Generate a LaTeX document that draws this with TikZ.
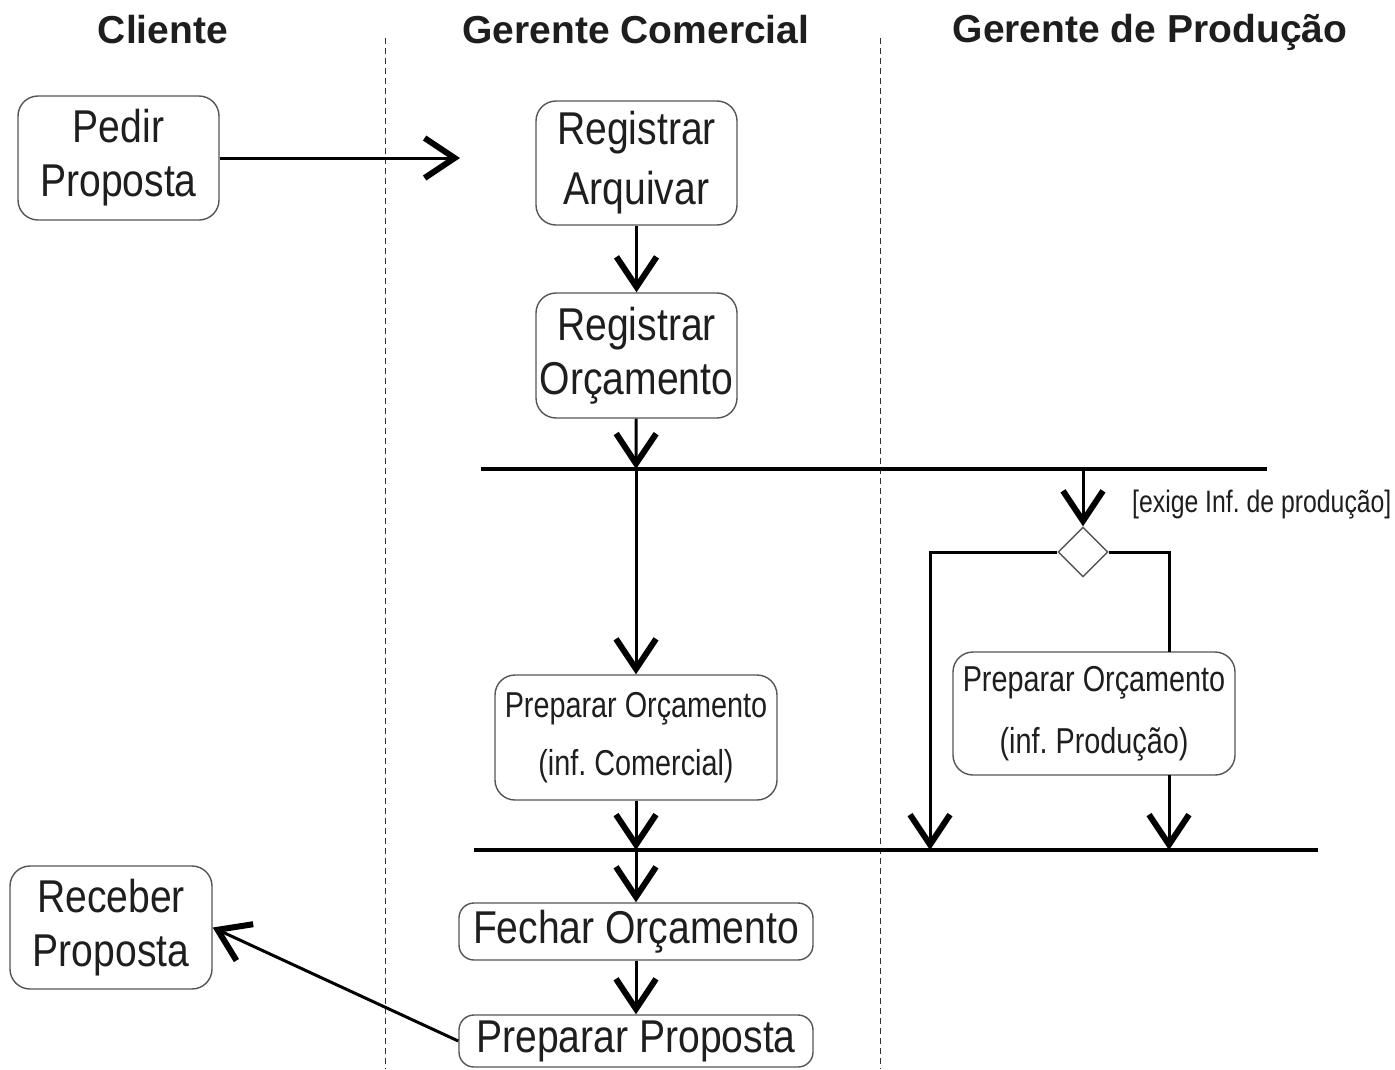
\documentclass[tikz,border=0pt]{standalone}
\usepackage{fontspec}
\setmainfont{Liberation Sans}
\newfontfamily\narrow[FakeStretch=0.85]{Liberation Sans}
\newfontfamily\slimfont[FakeStretch=0.80]{Liberation Sans}
\usetikzlibrary{arrows.meta,shapes.geometric}
\definecolor{boxline}{HTML}{555555}
\definecolor{ink}{HTML}{1E1E1E}
\frenchspacing
\tikzset{
  box/.style={draw=boxline, line width=1.4, rounded corners=20, fill=white, align=center, text=ink, inner sep=0pt,
    font=\narrow\fontsize{46}{54}\selectfont},
  smallbox/.style={box, font=\slimfont\fontsize{36}{58}\selectfont},
  head/.style={font=\bfseries\fontsize{39}{44}\selectfont, text=ink, inner sep=0pt},
  arr/.style={line width=3, -{Straight Barb[length=30,width=40,line width=6]}},
  plain/.style={line width=3},
  bar/.style={line width=4.5},
  lane/.style={line width=0.9, dash pattern=on 6 off 4, draw=black!80},
  guard/.style={font=\slimfont\fontsize{31}{34}\selectfont, text=ink, inner sep=0pt}
}
\begin{document}
\begin{tikzpicture}[x=1pt,y=-1pt]
\frenchspacing
\useasboundingbox[fill=white] (0,0) rectangle (1395,1069);
% swimlane separators
\draw[lane] (385,38) -- (385,1069);
\draw[lane] (880,38) -- (880,1069);
% headings
\node[head] (hcli) at (163,30) {Cliente};
\node[head] (hcom) at (636,30) {Gerente Comercial};
\node[head] (hprod) at (1150,32) {Gerente de Produção};
% bars
\coordinate (bar1l) at (481,469);
\coordinate (bar1r) at (1267,469);
\coordinate (bar2l) at (474,850);
\coordinate (bar2r) at (1318,850);
\draw[bar] (bar1l) -- (bar1r);
\draw[bar] (bar2l) -- (bar2r);
% action nodes
\node[box, minimum width=201, minimum height=124] (pedir) at (118.5,158) {Pedir\\Proposta};
\node[box, minimum width=201, minimum height=124, font=\narrow\fontsize{46}{60}\selectfont] (regarq) at (636.5,163) {Registrar\\Arquivar};
\node[box, minimum width=201, minimum height=125] (regorc) at (636.5,355.5) {Registrar\\Orçamento};
\node[smallbox, minimum width=282, minimum height=125] (pc) at (636,737.5) {Preparar Orçamento\\(inf. Comercial)};
\node[smallbox, minimum width=282, minimum height=123, font=\slimfont\fontsize{36}{62}\selectfont] (pp) at (1094,713.5) {Preparar Orçamento\\(inf. Produção)};
\node[box, minimum width=354, minimum height=57, rounded corners=15] (fechar) at (636,931.5) {Fechar Orçamento};
\node[box, minimum width=354, minimum height=52, rounded corners=15] (prop) at (636,1041) {Preparar Proposta};
\node[box, minimum width=202, minimum height=123] (receber) at (111,927.5) {Receber\\Proposta};
% decision
\node[draw=boxline, line width=1.4, fill=white, diamond, minimum width=50, minimum height=50, inner sep=0pt] (dia) at (1083,552) {};
\node[guard, anchor=west] (guard) at (1132,505) {[exige Inf. de produção]};
% coordinates on bars / free ends
\coordinate (pedirtip) at (460,158);
\coordinate (b1c) at (636,469);
\coordinate (b1d) at (1083,469);
\coordinate (b2c) at (636,850);
\coordinate (b2l) at (930,850);
\coordinate (ppin) at (1169,652);
\coordinate (ppout) at (1169,775);
\coordinate (b2r) at (1169,850);
% connectors
\draw[arr] (pedir.east) -- (pedirtip);
\draw[arr] (regarq) -- (regorc);
\draw[arr] (regorc) -- (b1c);
\draw[arr] (b1c) -- (pc);
\draw[arr] (pc) -- (b2c);
\draw[arr] (b2c) -- (fechar);
\draw[arr] (fechar) -- (prop);
\draw[arr] (prop.west) -- (receber.east);
\draw[arr] (b1d) -- (dia.north);
\draw[arr] (dia.west) -| (b2l);
\draw[plain] (dia.east) -| (ppin);
\draw[arr] (ppout) -- (b2r);
\end{tikzpicture}
\end{document}
